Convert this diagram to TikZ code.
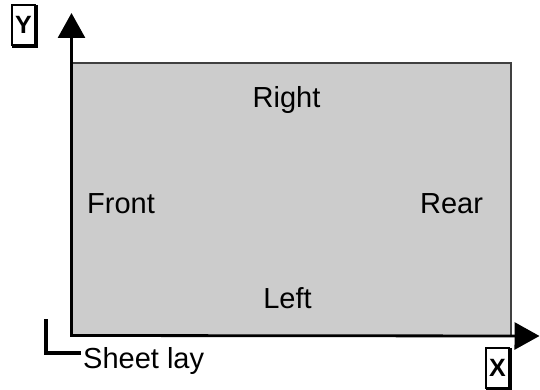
\documentclass[tikz,border=0pt]{standalone}
\usepackage{fontspec}
\setmainfont{Liberation Sans}
\usetikzlibrary{arrows.meta}
\begin{document}
\begin{tikzpicture}[x=1pt,y=-1pt,
  lbl/.style={font=\fontsize{29}{30}\selectfont, inner sep=0pt, anchor=base},
  axisline/.style={line width=2.8pt, -{Triangle[length=25pt,width=27pt]}},
  edgeline/.style={line width=2pt, draw=black!75},
  axbox/.style={draw, line width=1.3pt, minimum width=23pt, minimum height=40pt, inner sep=0pt, font=\fontsize{25}{26}\selectfont\bfseries},
  boxshadow/.style={line width=2pt}
]
\useasboundingbox (0,0) rectangle (540,390);
% sheet
\fill[gray!40] (71.5,62) rectangle (510.5,335.5);
\coordinate (o) at (71.5,335.5);
\coordinate (tl) at (71.5,63);
\coordinate (tr) at (510.5,63);
\coordinate (br) at (510.5,335.5);
\draw[edgeline] (tl) -- (tr) -- (br);
% axes
\coordinate (ytip) at (71.5,13);
\coordinate (xtip) at (539.5,336);
\draw[axisline] (o) -- (ytip);
\draw[axisline] ([xshift=-1.4pt]o) -- (xtip);
% labels
\node[lbl] (right) at (286.5,108) {Right};
\node[lbl] (front) at (121,213) {Front};
\node[lbl] (rear) at (451.5,213) {Rear};
\node[lbl] (left) at (287.5,308) {Left};
\node[lbl, anchor=base west] (sl) at (83,368) {Sheet lay};
% sheet lay bracket
\coordinate (b1) at (46,319);
\coordinate (b2) at (81,353);
\draw[line width=4.5pt] (b1) |- (b2);
% axis letter boxes
\node[axbox] (yb) at (23.5,25) {Y};
\draw[boxshadow] ([xshift=1pt,yshift=-0.5pt]yb.north east) -- ([xshift=1pt,yshift=-1pt]yb.south east) -- ([xshift=1pt,yshift=-1pt]yb.south west);
\node[axbox] (xb) at (497.5,368) {X};
\draw[boxshadow] ([xshift=1pt,yshift=-0.5pt]xb.north east) -- ([xshift=1pt,yshift=-1pt]xb.south east) -- ([xshift=1pt,yshift=-1pt]xb.south west);
\end{tikzpicture}
\end{document}
